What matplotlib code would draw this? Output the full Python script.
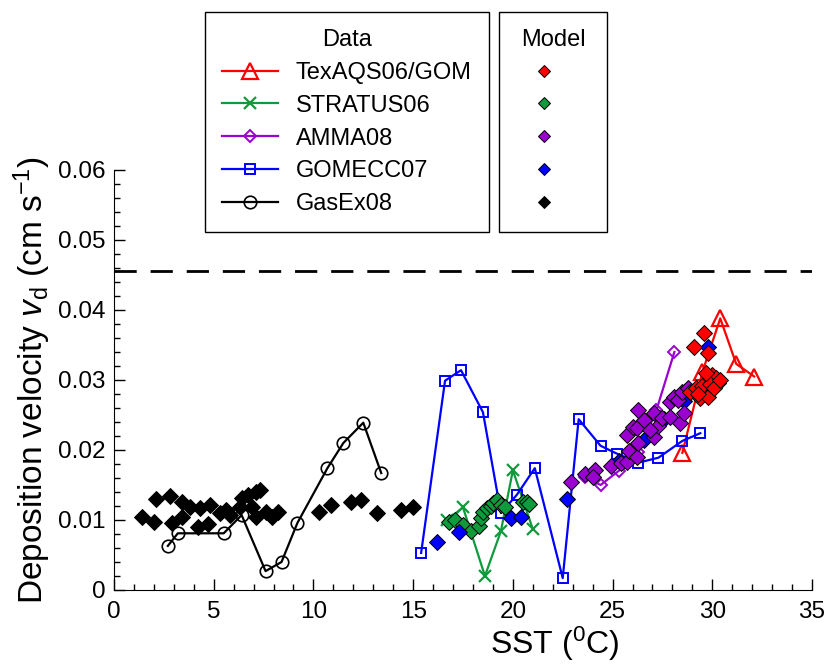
import matplotlib
matplotlib.use('Agg')
import matplotlib.pyplot as plt
from matplotlib.lines import Line2D
from matplotlib.ticker import MultipleLocator

plt.rcParams['font.family'] = ['Liberation Sans', 'DejaVu Sans']
plt.rcParams['mathtext.fontset'] = 'custom'
plt.rcParams['mathtext.rm'] = 'Liberation Sans'
plt.rcParams['mathtext.it'] = 'Liberation Sans:italic'

# measured data (open markers + lines)
tex_x = [28.5, 29.5, 30.4, 31.2, 32.1]
tex_y = [0.0196, 0.0311, 0.0388, 0.0323, 0.0305]

stratus_x = [16.7, 17.5, 18.6, 19.4, 20.0, 21.0]
stratus_y = [0.0100, 0.0118, 0.0020, 0.0084, 0.0171, 0.0087]

amma_x = [23.6, 24.4, 25.3, 26.3, 27.2, 28.1]
amma_y = [0.0162, 0.0150, 0.0170, 0.0197, 0.0257, 0.0340]

gomecc_x = [15.4, 16.6, 17.4, 18.5, 19.4, 20.2, 21.1, 22.5, 23.3, 24.4, 25.2, 26.3, 27.3, 28.5, 29.4]
gomecc_y = [0.0053, 0.0299, 0.0314, 0.0254, 0.0110, 0.0136, 0.0174, 0.0017, 0.0244,
            0.0206, 0.0195, 0.0182, 0.0189, 0.0213, 0.0224]

gasex_x = [2.7, 3.2, 5.5, 6.4, 7.6, 8.4, 9.2, 10.7, 11.5, 12.5, 13.4]
gasex_y = [0.0063, 0.0081, 0.0081, 0.0107, 0.0027, 0.0040, 0.0096, 0.0174, 0.0210, 0.0239, 0.0167]

# model values (filled diamonds)
m_gasex_x = [1.4, 2.0, 2.1, 2.8, 2.9, 3.4, 3.4, 3.8, 4.2, 4.3, 4.7, 4.8, 5.3, 5.6, 5.8, 6.3,
             6.4, 6.7, 6.9, 7.1, 7.1, 7.3, 7.6, 7.9, 8.2, 10.3, 10.9, 11.9, 12.4, 13.2, 14.4, 15.0]
m_gasex_y = [0.0105, 0.0097, 0.0130, 0.0134, 0.0096, 0.0126, 0.0104, 0.0119, 0.0090, 0.0117,
             0.0095, 0.0121, 0.0110, 0.0114, 0.0107, 0.0119, 0.0131, 0.0136, 0.0119, 0.0140,
             0.0104, 0.0143, 0.0111, 0.0104, 0.0111, 0.0111, 0.0121, 0.0126, 0.0128, 0.0110,
             0.0114, 0.0119]

m_stratus_x = [16.8, 17.1, 17.5, 17.9, 18.3, 18.4, 18.5, 18.7, 18.9, 19.0, 19.2, 19.4, 19.6, 20.5, 20.7, 20.8]
m_stratus_y = [0.0097, 0.0100, 0.0093, 0.0084, 0.0092, 0.0103, 0.0112, 0.0117, 0.0120,
               0.0124, 0.0129, 0.0121, 0.0119, 0.0126, 0.0126, 0.0123]

m_gomecc_x = [16.2, 17.3, 19.9, 20.4, 22.7, 25.3, 26.6, 27.6, 28.6, 29.8, 30.2]
m_gomecc_y = [0.0069, 0.0083, 0.0103, 0.0104, 0.0130, 0.0185, 0.0215, 0.0245, 0.0270, 0.0347, 0.0300]

m_amma_x = [22.9, 23.6, 24.1, 24.0, 24.9, 25.4, 25.7, 25.8, 26.2, 26.3, 25.7, 26.0, 26.2, 26.6,
            27.1, 27.1, 27.3, 27.5, 27.9, 27.9, 28.1, 28.3, 28.4, 28.6, 28.5, 28.8, 26.3, 26.9]
m_amma_y = [0.0154, 0.0166, 0.0171, 0.0162, 0.0177, 0.0181, 0.0183, 0.0199, 0.0190, 0.0210,
            0.0221, 0.0233, 0.0231, 0.0243, 0.0253, 0.0219, 0.0234, 0.0246, 0.0269, 0.0247,
            0.0276, 0.0272, 0.0239, 0.0253, 0.0283, 0.0289, 0.0257, 0.0228]

m_tex_x = [29.1, 29.6, 29.8, 28.9, 29.2, 29.4, 29.6, 29.8, 30.0, 30.2, 30.3, 29.5, 29.9, 30.1, 30.4, 29.3, 29.7]
m_tex_y = [0.0347, 0.0367, 0.0339, 0.0283, 0.0289, 0.0274, 0.0285, 0.0276, 0.0307, 0.0303,
           0.0296, 0.0292, 0.0295, 0.0288, 0.0300, 0.0280, 0.0310]

vd_limit = 0.0455

c_red = '#ff0000'
c_green = '#0f9a3c'
c_purple = '#9a00d0'
c_blue = '#0000ff'
c_black = '#000000'

fig = plt.figure(figsize=(8.27, 6.71), dpi=100)
ax = fig.add_axes([114 / 827, 1 - 590 / 671, (812 - 114) / 827, (590 - 170) / 671])

ax.axhline(vd_limit, color='black', lw=2, ls=(0, (8, 5)), zorder=1)

lw = 1.6
l_tex, = ax.plot(tex_x, tex_y, '-', marker='^', color=c_red, mfc='none', ms=11, mew=1.6, lw=lw)
l_str, = ax.plot(stratus_x, stratus_y, '-', marker='x', color=c_green, ms=9, mew=1.6, lw=lw)
l_amma, = ax.plot(amma_x, amma_y, '-', marker='D', color=c_purple, mfc='none', ms=6.5, mew=1.4, lw=lw)
l_gom, = ax.plot(gomecc_x, gomecc_y, '-', marker='s', color=c_blue, mfc='none', ms=7.5, mew=1.4, lw=lw)
l_gas, = ax.plot(gasex_x, gasex_y, '-', marker='o', color=c_black, mfc='none', ms=9, mew=1.2, lw=lw)

dkw = dict(ls='none', marker='D', ms=8, mec='black', mew=0.7)
ax.plot(m_gasex_x, m_gasex_y, mfc=c_black, **dkw)
ax.plot(m_stratus_x, m_stratus_y, mfc=c_green, **dkw)
ax.plot(m_gomecc_x, m_gomecc_y, mfc=c_blue, **dkw)
ax.plot(m_amma_x, m_amma_y, mfc=c_purple, **dkw)
ax.plot(m_tex_x, m_tex_y, mfc=c_red, **dkw)

ax.set_xlim(0, 35)
ax.set_ylim(0, 0.06)
ax.xaxis.set_major_locator(MultipleLocator(5))
ax.xaxis.set_minor_locator(MultipleLocator(1))
ax.yaxis.set_major_locator(MultipleLocator(0.01))
ax.yaxis.set_minor_locator(MultipleLocator(0.002))
ax.yaxis.set_major_formatter(plt.FuncFormatter(lambda v, p: '0' if abs(v) < 1e-9 else f'{v:.2f}'))
ax.spines['top'].set_visible(False)
ax.spines['right'].set_visible(False)
ax.tick_params(which='both', direction='in', labelsize=17.5, width=1)
ax.tick_params(axis='x', which='major', length=8, pad=8)
ax.tick_params(axis='y', which='major', length=8, pad=6)
ax.tick_params(which='minor', length=4)

ax.set_xlabel('SST ($^{0}$C)', fontsize=23)
ax.xaxis.set_label_coords((555 - 114) / (812 - 114), -0.082)
ax.set_ylabel(r'Deposition velocity $v_{\mathrm{d}}$ (cm s$^{-1}$)', fontsize=24, labelpad=4)

leg_kw = dict(loc='upper left', fontsize=17, title_fontsize=17, frameon=True, fancybox=False,
              edgecolor='black', framealpha=1, borderpad=0.72, labelspacing=0.46,
              handlelength=2.37, handletextpad=0.76, borderaxespad=0,
              bbox_transform=fig.transFigure)
leg1 = fig.legend([l_tex, l_str, l_amma, l_gom, l_gas],
                  ['TexAQS06/GOM', 'STRATUS06', 'AMMA08', 'GOMECC07', 'GasEx08'],
                  title='Data', bbox_to_anchor=(205 / 827, 1 - 12 / 671), **leg_kw)
leg1.get_frame().set_linewidth(1)

model_handles = [Line2D([0], [0], ls='none', marker='D', ms=6.5, mec='black', mew=0.7, mfc=c)
                 for c in [c_red, c_green, c_purple, c_blue, c_black]]
leg2 = fig.legend(model_handles, [''] * 5, title='Model',
                  bbox_to_anchor=(499 / 827, 1 - 12 / 671), **leg_kw)
leg2.get_frame().set_linewidth(1)

fig.savefig('out.png', dpi=100)
